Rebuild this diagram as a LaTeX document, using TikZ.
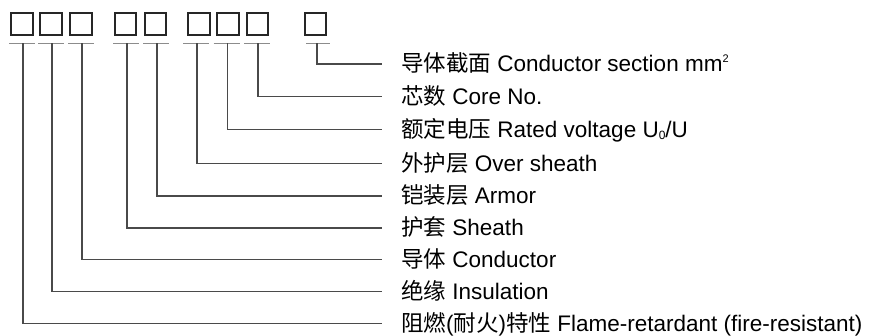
\documentclass[tikz,border=0pt]{standalone}
\usepackage{fontspec}
\setmainfont{Liberation Sans}
\newfontfamily\cjk{Noto Sans CJK SC}
\definecolor{boxc}{HTML}{262626}
\definecolor{ulc}{HTML}{8C8C8C}
\definecolor{connc}{HTML}{4A4A4A}
\definecolor{txtc}{HTML}{000000}
\newcommand{\smallsup}[1]{\raisebox{9pt}{\fontsize{11}{11}\selectfont #1}}
\newcommand{\smallsub}[1]{\raisebox{-2pt}{\fontsize{12}{12}\selectfont #1}}
\begin{document}
\begin{tikzpicture}[x=1pt,y=-1pt,
  codebox/.style={draw=boxc, line width=1.9pt, minimum width=21.5pt, minimum height=22pt, inner sep=0pt},
  uline/.style={draw=ulc, line width=1.3pt},
  conn/.style={draw=connc, line width=1.3pt, shorten >=19pt},
  lbl/.style={anchor=west, inner sep=0pt, text height=16pt, text depth=0pt,
    font=\fontsize{22.5}{27}\selectfont, text=txtc}]
\useasboundingbox (0,0) rectangle (872,336);

% code boxes
\node[codebox] (b1) at (22,23.7) {};
\node[codebox] (b2) at (51,23.7) {};
\node[codebox] (b3) at (81,23.7) {};
\node[codebox] (b4) at (125.5,23.7) {};
\node[codebox] (b5) at (155.5,23.7) {};
\node[codebox] (b6) at (199,23.7) {};
\node[codebox] (b7) at (228,23.7) {};
\node[codebox] (b8) at (257.5,23.7) {};
\node[codebox] (b9) at (315.5,23.7) {};

% underline centres
\coordinate (u1) at (23,43.3);
\coordinate (u2) at (52,43.3);
\coordinate (u3) at (82,43.3);
\coordinate (u4) at (127,43.3);
\coordinate (u5) at (157,43.3);
\coordinate (u6) at (197,43.3);
\coordinate (u7) at (227.5,43.3);
\coordinate (u8) at (258,43.3);
\coordinate (u9) at (317,43.3);

\foreach \u in {u1,u2,u3,u4,u5,u6,u7,u8}
  \draw[uline] ([xshift=-14pt]\u) -- ([xshift=12pt]\u);
\draw[uline] ([xshift=-11pt]u9) -- ([xshift=13pt]u9);

% labels
\node[lbl] (l9) at (401,64)    {{\cjk 导体截面} Conductor section mm\smallsup{2}};
\node[lbl] (l8) at (401,96.5)  {{\cjk 芯数} Core No.};
\node[lbl] (l7) at (401,129.3) {{\cjk 额定电压} Rated voltage U\smallsub{0}/U};
\node[lbl] (l6) at (401,163.3) {{\cjk 外护层} Over sheath};
\node[lbl] (l5) at (401,196)   {{\cjk 铠装层} Armor};
\node[lbl] (l4) at (401,228)   {{\cjk 护套} Sheath};
\node[lbl] (l3) at (401,259.5) {{\cjk 导体} Conductor};
\node[lbl] (l2) at (401,291.5) {{\cjk 绝缘} Insulation};
\node[lbl] (l1) at (401,323.5) {{\cjk 阻燃}({\cjk 耐火}){\cjk 特性} Flame-retardant (fire-resistant)};

% connectors
\foreach \i in {1,...,9}
  \draw[conn] (u\i) |- (l\i.west);
\end{tikzpicture}
\end{document}
